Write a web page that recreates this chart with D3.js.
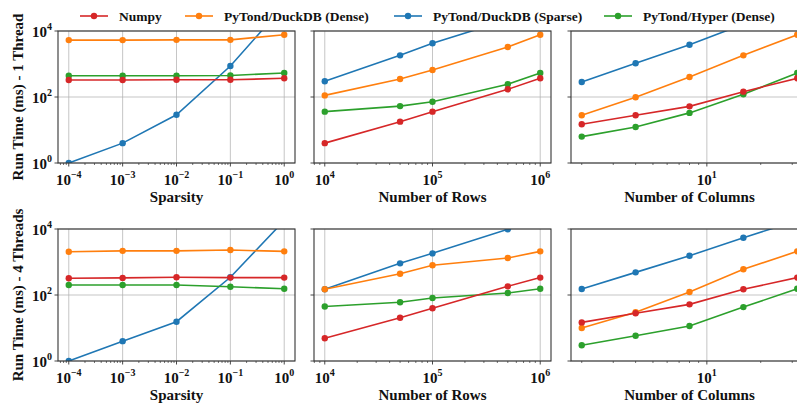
<!DOCTYPE html>
<html>
<head>
<meta charset="utf-8">
<script src="https://cdn.jsdelivr.net/npm/d3@7"></script>
<style>
  body { margin: 0; background: #fff; }
</style>
</head>
<body>
<div id="chart"></div>
<script>
// Series (legend order) and colours
const seriesNames = ['Numpy', 'PyTond/DuckDB (Dense)', 'PyTond/DuckDB (Sparse)', 'PyTond/Hyper (Dense)'];
const seriesColors = ['#d62728', '#ff7f0e', '#1f77b4', '#2ca02c'];

// x values per column of panels
const sparsity = [1e-4, 1e-3, 1e-2, 1e-1, 1];
const numRows = [1e4, 5e4, 1e5, 5e5, 1e6];
const numCols = [2, 4, 8, 16, 32];

// Row 1: 1 thread  (order: Numpy, Dense, Sparse, Hyper)
const sparsity1Numpy  = [327, 327, 332, 332, 369];
const sparsity1Dense  = [5300, 5300, 5400, 5400, 7700];
const sparsity1Sparse = [1, 4, 29, 870, 60000];
const sparsity1Hyper  = [442, 442, 442, 450, 535];

const rows1Numpy  = [4, 17.9, 36, 171, 369];
const rows1Dense  = [112, 351, 660, 3270, 7700];
const rows1Sparse = [299, 1830, 4250, 22000, 60000];
const rows1Hyper  = [36, 53, 72, 243, 535];

const cols1Numpy  = [14.9, 28, 52, 145, 369];
const cols1Dense  = [28, 98, 404, 1830, 7700];
const cols1Sparse = [285, 1050, 3850, 16000, 60000];
const cols1Hyper  = [6.3, 12.3, 33, 121, 535];

// Row 2: 4 threads
const sparsity4Numpy  = [321, 330, 345, 337, 337];
const sparsity4Dense  = [2050, 2180, 2180, 2300, 2100];
const sparsity4Sparse = [1, 4, 15.5, 345, 18000];
const sparsity4Hyper  = [200, 200, 200, 178, 155];

const rows4Numpy  = [4.9, 20.5, 39.5, 183, 337];
const rows4Dense  = [149, 442, 795, 1320, 2100];
const rows4Sparse = [149, 910, 1830, 9800, 18000];
const rows4Hyper  = [45, 60, 81, 115, 155];

const cols4Numpy  = [14.8, 28, 52, 149, 337];
const cols4Dense  = [10, 30, 123, 600, 2100];
const cols4Sparse = [152, 485, 1550, 5450, 18000];
const cols4Hyper  = [3, 5.8, 11.5, 43, 155];

const yTicks = [1, 1e2, 1e4];
const rowLabels = ['Run Time (ms) - 1 Thread', 'Run Time (ms) - 4 Threads'];
const colLabels = ['Sparsity', 'Number of Rows', 'Number of Columns'];

const width = 797, height = 405;
const panelW = 237, panelH = 132;
const colX = [58, 314, 571];
const rowY = [31, 229];

const svg = d3.select('#chart').append('svg')
  .attr('width', width).attr('height', height)
  .attr('font-family', "'Liberation Serif', 'Times New Roman', 'DejaVu Serif', serif")
  .attr('font-weight', 'bold')
  .style('display', 'block');

// column definitions: x values, domain (log space with margins), major ticks
const columns = [
  { xs: sparsity, domain: [10 ** -4.2, 10 ** 0.2], major: [1e-4, 1e-3, 1e-2, 1e-1, 1] },
  { xs: numRows, domain: [10 ** 3.9, 10 ** 6.1], major: [1e4, 1e5, 1e6] },
  { xs: numCols, domain: [2 / 10 ** 0.06, 32 * 10 ** 0.06], major: [10] }
];

const panelData = [
  [
    [sparsity1Numpy, sparsity1Dense, sparsity1Sparse, sparsity1Hyper],
    [rows1Numpy, rows1Dense, rows1Sparse, rows1Hyper],
    [cols1Numpy, cols1Dense, cols1Sparse, cols1Hyper]
  ],
  [
    [sparsity4Numpy, sparsity4Dense, sparsity4Sparse, sparsity4Hyper],
    [rows4Numpy, rows4Dense, rows4Sparse, rows4Hyper],
    [cols4Numpy, cols4Dense, cols4Sparse, cols4Hyper]
  ]
];

// draw order: sparse, dense, hyper, numpy (numpy on top)
const drawOrder = [2, 1, 3, 0];

function powLabel(sel, v, anchor) {
  const e = Math.round(Math.log10(v));
  sel.attr('text-anchor', anchor);
  sel.append('tspan').attr('font-size', 15).text('10');
  sel.append('tspan').attr('font-size', 10).attr('dy', -7)
    .text(e < 0 ? '\u2212' + (-e) : String(e));
}

function minorTicks(domain) {
  const out = [];
  const lo = Math.floor(Math.log10(domain[0])), hi = Math.ceil(Math.log10(domain[1]));
  for (let k = lo; k <= hi; k++) {
    for (let d = 2; d <= 9; d++) {
      const v = d * 10 ** k;
      if (v >= domain[0] && v <= domain[1]) out.push(v);
    }
  }
  return out;
}

rowY.forEach((y0, r) => {
  columns.forEach((col, c) => {
    const x0 = colX[c];
    const x = d3.scaleLog().domain(col.domain).range([x0, x0 + panelW]);
    const y = d3.scaleLog().domain([1, 1e4]).range([y0 + panelH, y0]);
    const g = svg.append('g');

    const clipId = `clip-${r}-${c}`;
    svg.append('clipPath').attr('id', clipId)
      .append('rect').attr('x', x0).attr('y', y0).attr('width', panelW).attr('height', panelH);

    // grid
    g.selectAll('.vgrid').data(col.major).enter().append('line')
      .attr('x1', d => x(d)).attr('x2', d => x(d))
      .attr('y1', y0).attr('y2', y0 + panelH)
      .attr('stroke', '#b0b0b0').attr('stroke-width', 0.9).attr('opacity', 0.8);
    g.selectAll('.hgrid').data(yTicks).enter().append('line')
      .attr('x1', x0).attr('x2', x0 + panelW)
      .attr('y1', d => y(d)).attr('y2', d => y(d))
      .attr('stroke', '#b0b0b0').attr('stroke-width', 0.9).attr('opacity', 0.8);

    // series
    const line = d3.line().x(d => x(d[0])).y(d => y(d[1]));
    const plot = g.append('g').attr('clip-path', `url(#${clipId})`);
    drawOrder.forEach(s => {
      const pts = col.xs.map((xv, i) => [xv, panelData[r][c][s][i]]);
      plot.append('path').datum(pts)
        .attr('d', line).attr('fill', 'none')
        .attr('stroke', seriesColors[s]).attr('stroke-width', 1.6);
      plot.selectAll(null).data(pts).enter().append('circle')
        .attr('cx', d => x(d[0])).attr('cy', d => y(d[1])).attr('r', 3.2)
        .attr('fill', seriesColors[s]);
    });

    // spines
    g.append('rect').attr('x', x0).attr('y', y0).attr('width', panelW).attr('height', panelH)
      .attr('fill', 'none').attr('stroke', '#333').attr('stroke-width', 1.1);

    // x ticks
    g.selectAll('.xmaj').data(col.major).enter().append('line')
      .attr('x1', d => x(d)).attr('x2', d => x(d))
      .attr('y1', y0 + panelH).attr('y2', y0 + panelH + 3.5)
      .attr('stroke', '#333').attr('stroke-width', 0.9);
    g.selectAll('.xmin').data(minorTicks(col.domain)).enter().append('line')
      .attr('x1', d => x(d)).attr('x2', d => x(d))
      .attr('y1', y0 + panelH).attr('y2', y0 + panelH + 2)
      .attr('stroke', '#333').attr('stroke-width', 0.7);
    col.major.forEach(v => {
      g.append('text').attr('x', x(v)).attr('y', y0 + panelH + 22)
        .attr('fill', '#111').call(powLabel, v, 'middle');
    });

    // y ticks
    g.selectAll('.ymaj').data(yTicks).enter().append('line')
      .attr('x1', x0 - 3.5).attr('x2', x0)
      .attr('y1', d => y(d)).attr('y2', d => y(d))
      .attr('stroke', '#333').attr('stroke-width', 0.9);
    if (c === 0) {
      yTicks.forEach(v => {
        g.append('text').attr('x', x0 - 6).attr('y', y(v) + 5.5)
          .attr('fill', '#111').call(powLabel, v, 'end');
      });
      g.append('text')
        .attr('transform', `translate(23,${y0 + panelH / 2}) rotate(-90)`)
        .attr('text-anchor', 'middle').attr('font-size', 15).attr('fill', '#111')
        .text(rowLabels[r]);
    }

    // x label
    g.append('text').attr('x', x0 + panelW / 2).attr('y', y0 + panelH + 39)
      .attr('text-anchor', 'middle').attr('font-size', 15).attr('fill', '#111')
      .text(colLabels[c]);
  });
});

// legend
const legendX = [80, 185, 394, 604];
const legend = svg.append('g');
seriesNames.forEach((name, i) => {
  const lx = legendX[i];
  legend.append('line').attr('x1', lx).attr('x2', lx + 28).attr('y1', 16).attr('y2', 16)
    .attr('stroke', seriesColors[i]).attr('stroke-width', 1.6);
  legend.append('circle').attr('cx', lx + 14).attr('cy', 16).attr('r', 3.2)
    .attr('fill', seriesColors[i]);
  legend.append('text').attr('x', lx + 39).attr('y', 21)
    .attr('font-size', 13.5).attr('fill', '#111').text(name);
});
</script>
</body>
</html>
